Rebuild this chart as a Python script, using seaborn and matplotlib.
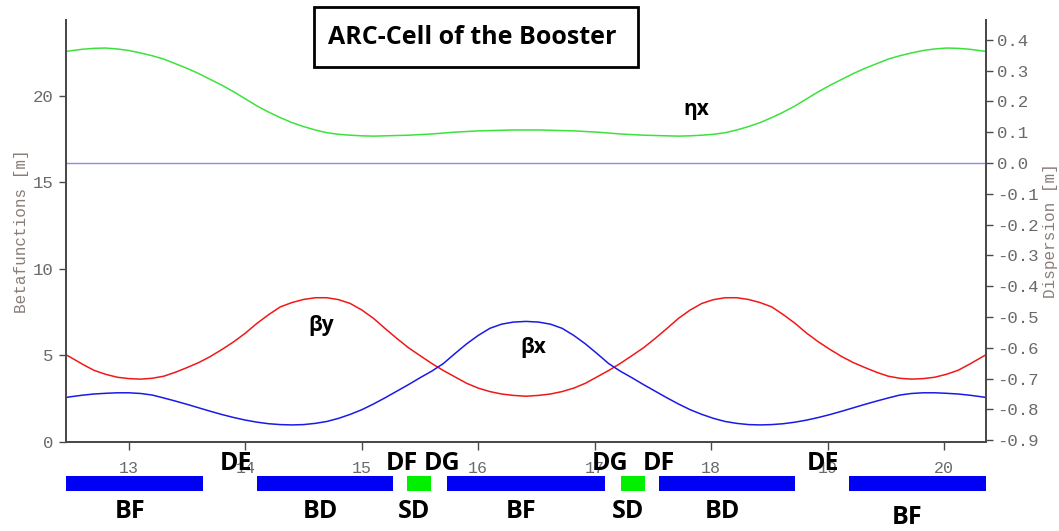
import matplotlib
matplotlib.use("Agg")
import matplotlib.pyplot as plt
from matplotlib.patches import Rectangle
import pandas as pd
import seaborn as sns

# ---- optics along the cell (s in m) ----
s = [12.46, 12.50, 12.60, 12.70, 12.80, 12.90, 13.00, 13.10, 13.20, 13.30,
     13.40, 13.50, 13.60, 13.70, 13.80, 13.90, 14.00, 14.10, 14.20, 14.30,
     14.40, 14.50, 14.60, 14.70, 14.80, 14.90, 15.00, 15.10, 15.20, 15.30,
     15.40, 15.50, 15.60, 15.70, 15.80, 15.90, 16.00, 16.10, 16.20, 16.30,
     16.41,
     16.52, 16.62, 16.72, 16.82, 16.92, 17.02, 17.12, 17.22, 17.32, 17.42,
     17.52, 17.62, 17.72, 17.82, 17.92, 18.02, 18.12, 18.22, 18.32, 18.42,
     18.52, 18.62, 18.72, 18.82, 18.92, 19.02, 19.12, 19.22, 19.32, 19.42,
     19.52, 19.62, 19.72, 19.82, 19.92, 20.02, 20.12, 20.22, 20.32, 20.36]

beta_x = [2.56, 2.60, 2.69, 2.76, 2.80, 2.83, 2.83, 2.79, 2.70, 2.53,
          2.35, 2.16, 1.96, 1.76, 1.57, 1.40, 1.25, 1.13, 1.04, 0.99,
          0.97, 0.99, 1.06, 1.17, 1.35, 1.58, 1.85, 2.18, 2.54, 2.92,
          3.30, 3.70, 4.08, 4.52, 5.10, 5.66, 6.15, 6.56, 6.80, 6.92,
          6.96,
          6.92, 6.80, 6.56, 6.15, 5.66, 5.10, 4.52, 4.08, 3.70, 3.30,
          2.92, 2.54, 2.18, 1.85, 1.58, 1.35, 1.17, 1.06, 0.99, 0.97,
          0.99, 1.04, 1.13, 1.25, 1.40, 1.57, 1.76, 1.96, 2.16, 2.35,
          2.53, 2.70, 2.79, 2.83, 2.83, 2.80, 2.76, 2.69, 2.60, 2.56]

beta_y = [5.03, 4.88, 4.49, 4.13, 3.90, 3.73, 3.65, 3.62, 3.67, 3.79,
          4.02, 4.29, 4.58, 4.93, 5.34, 5.78, 6.28, 6.85, 7.35, 7.80,
          8.05, 8.23, 8.33, 8.33, 8.22, 8.00, 7.62, 7.14, 6.55, 5.98,
          5.44, 4.98, 4.53, 4.12, 3.75, 3.38, 3.10, 2.90, 2.76, 2.68,
          2.63,
          2.68, 2.76, 2.90, 3.10, 3.38, 3.75, 4.12, 4.53, 4.98, 5.44,
          5.98, 6.55, 7.14, 7.62, 8.00, 8.22, 8.33, 8.33, 8.23, 8.05,
          7.80, 7.35, 6.85, 6.28, 5.78, 5.34, 4.93, 4.58, 4.29, 4.02,
          3.79, 3.67, 3.62, 3.65, 3.73, 3.90, 4.13, 4.49, 4.88, 5.03]

eta_x = [0.362, 0.364, 0.369, 0.372, 0.373, 0.370, 0.365, 0.357, 0.348, 0.337,
         0.322, 0.307, 0.290, 0.271, 0.252, 0.231, 0.208, 0.185, 0.165, 0.147,
         0.131, 0.118, 0.107, 0.098, 0.093, 0.090, 0.088, 0.087, 0.088, 0.089,
         0.090, 0.092, 0.094, 0.097, 0.100, 0.102, 0.104, 0.105, 0.106, 0.107,
         0.107,
         0.107, 0.106, 0.105, 0.104, 0.102, 0.100, 0.097, 0.094, 0.092, 0.090,
         0.089, 0.088, 0.087, 0.088, 0.090, 0.093, 0.098, 0.107, 0.118, 0.131,
         0.147, 0.165, 0.185, 0.208, 0.231, 0.252, 0.271, 0.290, 0.307, 0.322,
         0.337, 0.348, 0.357, 0.365, 0.370, 0.373, 0.372, 0.369, 0.364, 0.362]

# ---- lattice elements ----
elem_names = ["BF", "BD", "SD", "BF", "SD", "BD", "BF"]
elem_start = [12.46, 14.10, 15.39, 15.73, 17.23, 17.55, 19.18]
elem_end = [13.64, 15.27, 15.59, 17.09, 17.43, 18.72, 20.36]
elem_kind = ["bend", "bend", "sext", "bend", "sext", "bend", "bend"]

drift_names = ["DE", "DF", "DG", "DG", "DF", "DE"]
drift_pos = [13.92, 15.34, 15.69, 17.13, 17.55, 18.96]

x_ticks = [13, 14, 15, 16, 17, 18, 19, 20]
disp_ticks = [-0.9, -0.8, -0.7, -0.6, -0.5, -0.4, -0.3, -0.2, -0.1,
              0.0, 0.1, 0.2, 0.3, 0.4]
beta_ticks = [0, 5, 10, 15, 20]

title = "ARC-Cell of the Booster"

# ---- styling ----
sns.set_theme(style="white")
plt.rcParams["axes.unicode_minus"] = False
plt.rcParams["font.family"] = ["Open Sans", "DejaVu Sans"]

W, H = 1059, 531
fig = plt.figure(figsize=(W / 100, H / 100), dpi=100)
fig.patch.set_facecolor("white")


def fx(px):
    return px / W


def fy(py):
    return 1 - py / H


ax_l, ax_r = 66, 986
ax_t, ax_b = 20, 441.7
ax = fig.add_axes([fx(ax_l), fy(ax_b), fx(ax_r) - fx(ax_l), fy(ax_t) - fy(ax_b)])
ax2 = ax.twinx()

xlim = (12.46, 20.36)
df = pd.DataFrame({"s": s, "beta_x": beta_x, "beta_y": beta_y, "eta_x": eta_x})

sns.lineplot(data=df, x="s", y="beta_y", ax=ax, color="#f01818", linewidth=1.1,
             estimator=None)
sns.lineplot(data=df, x="s", y="beta_x", ax=ax, color="#1a1ae6", linewidth=1.1,
             estimator=None)
ax2.axhline(0.0, color="#8c8cf0", linewidth=1.0)
sns.lineplot(data=df, x="s", y="eta_x", ax=ax2, color="#3ce23c", linewidth=1.1,
             estimator=None)

ax.set_xlim(*xlim)
ax.set_ylim(0, 24.4)
ax2.set_ylim(-0.905, 0.464)

mono = "Liberation Mono"
tick_col = "#6a6a6a"
spine_col = "#4a4a4a"

ax.set_xticks(x_ticks)
ax.set_xticklabels([str(t) for t in x_ticks], fontfamily=mono, fontsize=12,
                   color=tick_col)
ax.set_yticks(beta_ticks)
ax.set_yticklabels([str(t) for t in beta_ticks], fontfamily=mono, fontsize=12.5,
                   color=tick_col)
ax2.set_yticks(disp_ticks)
ax2.set_yticklabels([f"{t:.1f}" for t in disp_ticks], fontfamily=mono,
                    fontsize=12.5, color=tick_col)

ax.tick_params(axis="x", direction="out", length=6, width=1, color=spine_col,
               pad=8, bottom=True)
ax.tick_params(axis="y", direction="out", length=5, width=1, color=spine_col,
               pad=4, left=True)
ax2.tick_params(axis="y", direction="out", length=5, width=1, color=spine_col,
                pad=3, right=True)

for a in (ax, ax2):
    a.spines["top"].set_visible(False)
    for side in ("left", "right", "bottom"):
        a.spines[side].set_color(spine_col)
        a.spines[side].set_linewidth(1.4)
    a.grid(False)
    a.set_xlabel("")

ax.set_ylabel("Betafunctions [m]", fontfamily=mono, fontsize=11.5,
              color="#8a7d78", labelpad=3)
ax2.set_ylabel("Dispersion [m]", fontfamily=mono, fontsize=11.5,
               color="#8a7d78", labelpad=3)

# curve names
lab_kw = dict(fontsize=15, fontweight="bold", color="black", ha="center",
              va="center")
ax.text(14.65, 6.75, "βy", **lab_kw)
ax.text(16.47, 5.47, "βx", **lab_kw)
ax2.text(17.87, 0.175, "ηx", **lab_kw)

# ---- lattice strip under the plot ----
lat = fig.add_axes([fx(ax_l), 0, fx(ax_r) - fx(ax_l), fy(445)], sharex=ax)
lat.set_ylim(0, 1)
lat.axis("off")
lat.patch.set_alpha(0)

kind_col = {"bend": "#0000f5", "sext": "#00f000"}
bar_y = (H - 483.2) / 86
bar_h = 15 / 86
lat.barh([bar_y] * len(elem_names),
         [e - b for b, e in zip(elem_start, elem_end)],
         left=elem_start, height=bar_h,
         color=[kind_col[k] for k in elem_kind], edgecolor="none")

big = dict(fontsize=18, fontweight="bold", color="black", ha="center",
           va="center")
for name, b, e in zip(elem_names, elem_start, elem_end):
    yl = (H - 512) / 86
    xc = (b + e) / 2 - 0.04
    if e >= xlim[1] - 1e-6:
        yl = (H - 518) / 86
        xc -= 0.05
    lat.text(xc, yl, name, **big)
for name, x in zip(drift_names, drift_pos):
    lat.text(x, (H - 464) / 86, name, **big)

# ---- boxed title ----
fig.patches.append(Rectangle((fx(314), fy(67)), fx(638) - fx(314), fy(7) - fy(67),
                             transform=fig.transFigure, fill=False,
                             edgecolor="black", linewidth=2))
fig.text(fx(328), fy(37), title, fontsize=18, fontweight="bold",
         color="black", ha="left", va="center")

fig.savefig("out.png", dpi=100, facecolor="white")
